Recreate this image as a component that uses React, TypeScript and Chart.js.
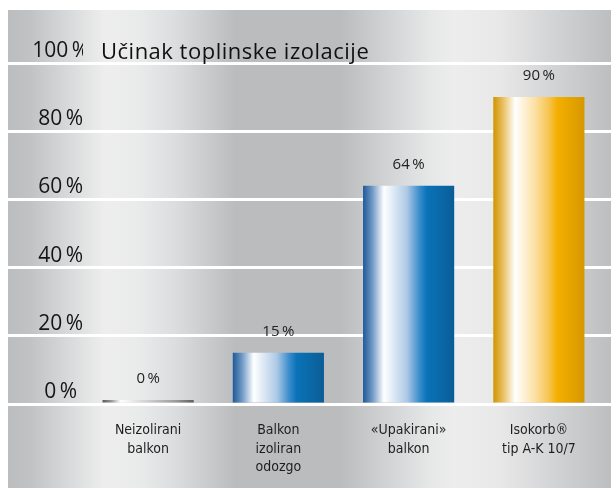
import React, { useEffect, useRef } from 'react';
import { Chart, registerables } from 'chart.js';
Chart.register(...registerables);

const categories: string[][] = [
  ['Neizolirani', 'balkon'],
  ['Balkon', 'izoliran', 'odozgo'],
  ['«Upakirani»', 'balkon'],
  ['Isokorb®', 'tip A-K 10/7'],
];
const values: number[] = [0, 15, 64, 90];
const valueLabels: string[] = ['0\u2009%', '15\u2009%', '64\u2009%', '90\u2009%'];
const yMin = 0;
const yMax = 100;
const yStep = 20;
const chartTitle = 'Učinak toplinske izolacije';

const FONT = '"Open Sans", "Noto Sans", sans-serif';
const NARROW = '"Liberation Sans Narrow", "DejaVu Sans Condensed", "Roboto", sans-serif';

const grayStops: [number, string][] = [
  [0, '#5c5c5c'], [0.1, '#9a9a9a'], [0.2, '#ffffff'], [0.45, '#d6d6d6'], [0.8, '#9c9c9c'], [1, '#5e5e5e'],
];
const blueStops: [number, string][] = [
  [0, '#1d5a98'], [0.1, '#6e97c4'], [0.23, '#ffffff'], [0.48, '#aecae6'], [0.62, '#3a8ccb'], [0.7, '#0a73b8'], [1, '#0b5d96'],
];
const goldStops: [number, string][] = [
  [0, '#cf9400'], [0.1, '#e8bd5a'], [0.24, '#ffffff'], [0.46, '#fbe0a2'], [0.62, '#f7c24a'], [0.7, '#f4af00'], [1, '#d69800'],
];
const barStops = [grayStops, blueStops, blueStops, goldStops];

const bgStops: [number, string][] = [
  [8, '#bcbdbe'], [30, '#c1c2c3'], [70, '#d9dadb'], [105, '#edeeed'], [140, '#e9eaea'], [175, '#dcdddf'],
  [235, '#bbbcbe'], [340, '#bbbcbe'], [390, '#d3d4d6'], [430, '#e6e7e7'], [455, '#ecedec'], [500, '#e8e8e8'],
  [560, '#d0d1d3'], [611, '#bdbebf'],
];

const BAR_FRACTION = 0.7;

const bgPlugin = {
  id: 'metalBg',
  beforeDraw(chart: any) {
    const ctx = chart.ctx as CanvasRenderingContext2D;
    const x0 = 8, x1 = 611, y0 = 10, y1 = chart.height;
    const g = ctx.createLinearGradient(x0, 0, x1, 0);
    bgStops.forEach(([p, c]) => g.addColorStop((p - x0) / (x1 - x0), c));
    ctx.save();
    ctx.fillStyle = g;
    ctx.fillRect(x0, y0, x1 - x0, y1 - y0);
    ctx.restore();
  },
};

const textPlugin = {
  id: 'texts',
  afterDatasetsDraw(chart: any) {
    const ctx = chart.ctx as CanvasRenderingContext2D;
    const meta = chart.getDatasetMeta(0);
    ctx.save();
    ctx.fillStyle = '#222222';
    ctx.font = `15px ${FONT}`;
    ctx.textAlign = 'center';
    ctx.textBaseline = 'alphabetic';
    meta.data.forEach((el: any, i: number) => {
      ctx.fillText(valueLabels[i], el.x, el.y - 17);
    });
    const yTop = chart.scales.y.getPixelForValue(yMax);
    ctx.fillStyle = '#111111';
    ctx.font = `22px ${FONT}`;
    (ctx as any).letterSpacing = '0.5px';
    ctx.textAlign = 'left';
    ctx.fillText(chartTitle, 101, yTop - 4);
    ctx.restore();
  },
};

function makeGradient(context: any) {
  const chart = context.chart;
  const i = context.dataIndex ?? 0;
  const stops = barStops[i] || blueStops;
  const xs = chart.scales?.x;
  if (!chart.chartArea || !xs) return stops[stops.length - 1][1];
  const cx = xs.getPixelForValue(i);
  const w = (xs.width / categories.length) * BAR_FRACTION;
  const g = chart.ctx.createLinearGradient(cx - w / 2, 0, cx + w / 2, 0);
  stops.forEach(([p, c]) => g.addColorStop(p, c));
  return g;
}

export default function App() {
  const ref = useRef<HTMLCanvasElement | null>(null);
  useEffect(() => {
    document.body.style.margin = '0';
    if (!ref.current) return;
    const chart = new Chart(ref.current, {
      type: 'bar',
      data: {
        labels: categories,
        datasets: [
          {
            data: values,
            backgroundColor: makeGradient,
            borderWidth: 0,
            minBarLength: 4,
            barPercentage: BAR_FRACTION,
            categoryPercentage: 1,
          },
        ],
      },
      options: {
        animation: false,
        responsive: false,
        devicePixelRatio: 1,
        layout: { padding: { top: 63, left: 0, right: 0, bottom: 0 } },
        plugins: { legend: { display: false }, tooltip: { enabled: false }, title: { display: false } },
        scales: {
          x: {
            type: 'category',
            offset: true,
            grid: { display: false, drawTicks: false },
            border: { display: false },
            ticks: {
              color: '#1e1e1e',
              font: { family: NARROW, size: 14, lineHeight: 1.33 },
              padding: 17,
              maxRotation: 0,
              autoSkip: false,
            },
            afterFit(scale: any) { scale.height = 84; },
          },
          y: {
            position: 'left',
            min: yMin,
            max: yMax,
            ticks: {
              stepSize: yStep,
              color: '#151515',
              font: { family: FONT, size: 21 },
              padding: -81,
              labelOffset: -12,
              crossAlign: 'center',
              callback: (v: any) => `${v}\u2009%`,
            },
            grid: { color: '#ffffff', lineWidth: 3, tickLength: 75, drawTicks: true },
            border: { display: false },
            afterFit(scale: any) { scale.width = 83; },
          },
          y2: {
            position: 'right',
            min: yMin,
            max: yMax,
            ticks: { stepSize: yStep, display: false },
            grid: { color: '#ffffff', lineWidth: 3, tickLength: 7, drawTicks: true, drawOnChartArea: false },
            border: { display: false },
            afterFit(scale: any) { scale.width = 7; },
          },
        },
      },
      plugins: [bgPlugin, textPlugin],
    });
    return () => chart.destroy();
  }, []);
  return (
    <div style={{ position: 'fixed', left: 0, top: 0, width: 611, height: 488 }}>
      <canvas ref={ref} width={611} height={488} style={{ display: 'block' }} />
    </div>
  );
}
